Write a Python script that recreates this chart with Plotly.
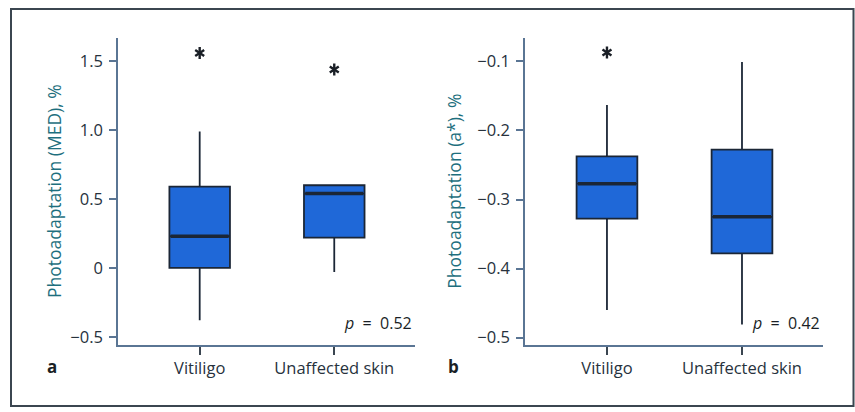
import plotly.graph_objects as go

categories = ["Vitiligo", "Unaffected skin"]

# Panel a: Photoadaptation (MED), %
a_lower = [-0.38, -0.03]
a_q1 = [0.00, 0.22]
a_median = [0.23, 0.54]
a_q3 = [0.59, 0.60]
a_upper = [0.99, 0.60]
a_outliers = [1.56, 1.44]
a_ticks = [-0.5, 0, 0.5, 1.0, 1.5]
a_ticktext = ["\u22120.5", "0", "0.5", "1.0", "1.5"]
a_p = "p = 0.52"

# Panel b: Photoadaptation (a*), %
b_lower = [-0.46, -0.481]
b_q1 = [-0.3275, -0.378]
b_median = [-0.277, -0.325]
b_q3 = [-0.2376, -0.2276]
b_upper = [-0.163, -0.101]
b_outliers = [-0.087, None]
b_ticks = [-0.5, -0.4, -0.3, -0.2, -0.1]
b_ticktext = ["\u22120.5", "\u22120.4", "\u22120.3", "\u22120.2", "\u22120.1"]
b_p = "p = 0.42"

FONT = "Open Sans"
BOX_FILL = "#1f68d8"
BOX_LINE = "#1b2636"
AXIS_COL = "#5a7594"
TICK_TXT = "#27323d"
TITLE_COL = "#1e6f7e"
BOXW = 0.45
xpos = [0, 1]

fig = go.Figure()

def add_panel(xa, ya, lower, q1, med, q3, upper, outl):
    fig.add_trace(go.Box(
        x=xpos, q1=q1, median=med, q3=q3, lowerfence=lower, upperfence=upper,
        width=BOXW, whiskerwidth=0, fillcolor=BOX_FILL,
        line=dict(color=BOX_LINE, width=1.8), boxpoints=False,
        xaxis=xa, yaxis=ya, showlegend=False, hoverinfo="skip"))
    for i, m in zip(xpos, med):
        fig.add_trace(go.Scatter(
            x=[i - BOXW / 2 + 0.01, i + BOXW / 2 - 0.01], y=[m, m], mode="lines",
            line=dict(color=BOX_LINE, width=3.5), xaxis=xa, yaxis=ya,
            showlegend=False, hoverinfo="skip"))
    # asterisk outliers: a y-up and a y-down marker overlaid at each point
    ox, oy, sym = [], [], []
    for i, o in zip(xpos, outl):
        if o is None:
            continue
        for s in ("y-up-open", "y-down-open"):
            ox.append(i)
            oy.append(o)
            sym.append(s)
    fig.add_trace(go.Scatter(
        x=ox, y=oy, mode="markers",
        marker=dict(symbol=sym, size=7.5, color="#1a1f26",
                    line=dict(color="#1a1f26", width=2.4)),
        xaxis=xa, yaxis=ya, showlegend=False, hoverinfo="skip"))

add_panel("x", "y", a_lower, a_q1, a_median, a_q3, a_upper, a_outliers)
add_panel("x2", "y2", b_lower, b_q1, b_median, b_q3, b_upper, b_outliers)

ydom = [1 - 348 / 412, 1 - 38 / 412]
xcommon = dict(
    tickmode="array", tickvals=xpos, ticktext=categories, range=[-0.607, 1.6],
    showline=True, linecolor=AXIS_COL, linewidth=1.8, ticks="outside",
    ticklen=8, tickcolor="#3a4550", tickwidth=1.5, showgrid=False, zeroline=False,
    tickfont=dict(family=FONT, size=16.5, color=TICK_TXT), fixedrange=True)
ycommon = dict(
    showline=True, linecolor=AXIS_COL, linewidth=1.5, ticks="outside",
    ticklen=7, tickcolor=AXIS_COL, tickwidth=1.5, showgrid=False, zeroline=False,
    ticklabelstandoff=3,
    tickfont=dict(family=FONT, size=16.5, color=TICK_TXT), domain=ydom,
    title_font=dict(family=FONT, size=17.5, color=TITLE_COL))

fig.update_layout(
    width=855, height=412, margin=dict(l=0, r=0, t=0, b=0),
    paper_bgcolor="white", plot_bgcolor="white",
    xaxis=dict(xcommon, domain=[118 / 855, 415 / 855], anchor="y"),
    xaxis2=dict(xcommon, domain=[525 / 855, 823 / 855], anchor="y2"),
    yaxis=dict(ycommon, range=[-0.557, 1.672], tickmode="array",
               tickvals=a_ticks, ticktext=a_ticktext, anchor="x",
               title_text="Photoadaptation (MED), %", title_standoff=4),
    yaxis2=dict(ycommon, range=[-0.510, -0.0656], tickmode="array",
                tickvals=b_ticks, ticktext=b_ticktext, anchor="x2",
                title_text="Photoadaptation (a*), %", title_standoff=11),
)

def p_text(s):
    return "<i>p</i>" + s[1:].replace(" = ", "  =  ")

for xr, yr, s in [("x domain", "y domain", a_p), ("x2 domain", "y2 domain", b_p)]:
    fig.add_annotation(text=p_text(s), xref=xr, yref=yr, x=0.995, y=0.07,
                       xanchor="right", yanchor="middle", showarrow=False,
                       font=dict(family=FONT, size=16, color="#1a1f26"))
fig.add_annotation(text="<b>a</b>", xref="paper", yref="paper", x=52 / 855, y=1 - 370 / 412,
                   xanchor="center", yanchor="middle", showarrow=False,
                   font=dict(family=FONT, size=17, color="#1a1f26"))
fig.add_annotation(text="<b>b</b>", xref="paper", yref="paper", x=453 / 855, y=1 - 370 / 412,
                   xanchor="center", yanchor="middle", showarrow=False,
                   font=dict(family=FONT, size=17, color="#1a1f26"))

fig.add_shape(type="rect", xref="paper", yref="paper",
              x0=11 / 855, x1=853.5 / 855, y0=1 - 410 / 412, y1=1 - 9 / 412,
              line=dict(color="#3b4650", width=2), fillcolor="rgba(0,0,0,0)", layer="below")

fig.write_html("out.html", config={"displayModeBar": False},
               post_script="document.body.style.margin='0';document.body.style.overflow='hidden';")
